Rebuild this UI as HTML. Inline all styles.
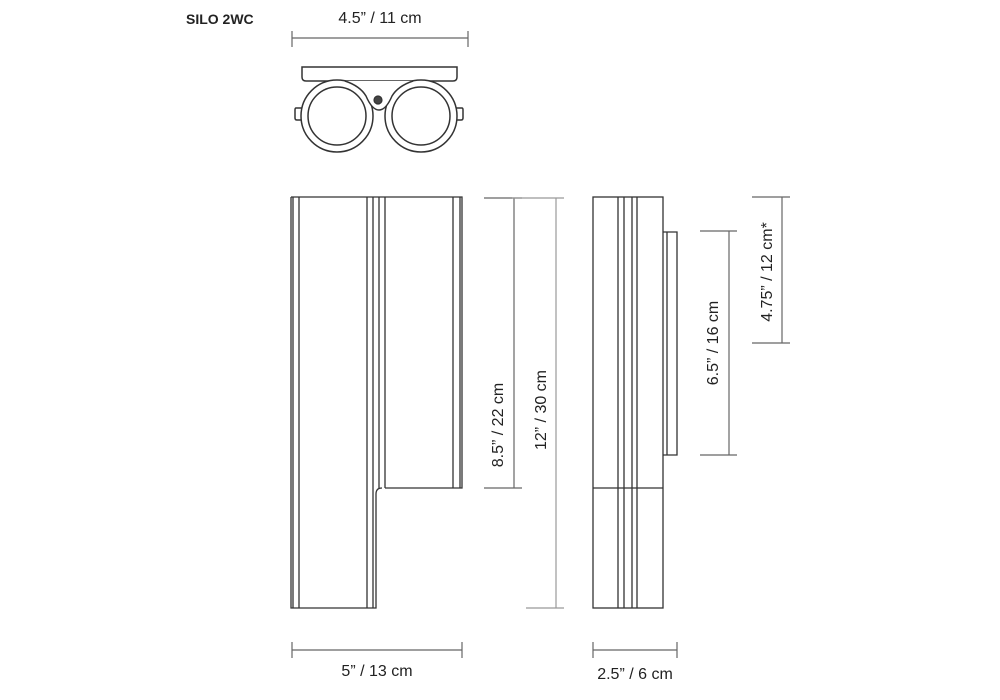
<!DOCTYPE html>
<html><head><style>
body{margin:0;background:#fff;width:1000px;height:700px;overflow:hidden}
svg{display:block}
text{font-family:"Liberation Sans",sans-serif;fill:#222}
</style></head><body>
<svg width="1000" height="700" viewBox="0 0 1000 700" fill="none" stroke="#333" stroke-width="1.2">
<text x="186" y="24" font-size="14" font-weight="bold" stroke="none">SILO 2WC</text>
<!-- top dim -->
<text x="380" y="23" font-size="16" text-anchor="middle" stroke="none">4.5” / 11 cm</text>
<path d="M292 38H468M292 31V47M468 31V47" stroke="#666"/>
<!-- top view -->
<path d="M302 67H457V77Q457 81 453 81H306Q302 81 302 77Z" stroke-width="1.5"/>
<g stroke-width="1.5">
<path d="M302 108 L296 108 Q295 108 295 110 L295 118 Q295 120 297 120 L303 120"/>
<path d="M456 108 L462 108 Q463 108 463 110 L463 118 Q463 120 461 120 L455 120"/>
<circle cx="337" cy="116" r="36" fill="#fff"/>
<circle cx="421" cy="116" r="36" fill="#fff"/>
<path d="M345 81 L413 81 L393 96 Q386 110 379 110 Q372 110 365 96 Z" fill="#fff" stroke="none"/>
<path d="M345 81 Q360 86 366 96 Q372 110 379 110 Q386 110 392 96 Q398 86 413 81"/>
<circle cx="337" cy="116" r="29"/>
<circle cx="421" cy="116" r="29"/>
</g>
<circle cx="378" cy="100" r="4" fill="#444"/>
<!-- front view -->
<g stroke-width="1.3">
<path d="M291 197H462V488H385M291 197V608H376V494Q376 488 382 488"/>
<path d="M293 197V608M299 197V608M367 197V608M373 197V608M379 197V488M385 197V488M453 197V488M460 197V488"/>
</g>
<!-- dims front -->
<path d="M484 198H522M514 198V488M484 488H522" stroke="#666"/>
<path d="M512 198H564M556 198V608M526 608H564" stroke="#999"/>
<text transform="translate(503,425) rotate(-90)" font-size="16" text-anchor="middle" stroke="none">8.5” / 22 cm</text>
<text transform="translate(546,410) rotate(-90)" font-size="16" text-anchor="middle" stroke="none">12” / 30 cm</text>
<path d="M292 650H462M292 642V658M462 642V658" stroke="#666"/>
<text x="377" y="676" font-size="16" text-anchor="middle" stroke="none">5” / 13 cm</text>
<!-- side view -->
<g stroke-width="1.3">
<rect x="593" y="197" width="70" height="411"/>
<path d="M618 197V608M624 197V608M632 197V608M637 197V608M593 488H663"/>
<path d="M663 232H677V455H663M667 232V455"/>
</g>
<path d="M700 231H737M729 231V455M700 455H737" stroke="#666"/>
<path d="M752 197H790M782 197V343M752 343H790" stroke="#666"/>
<text transform="translate(718,343) rotate(-90)" font-size="16" text-anchor="middle" stroke="none">6.5” / 16 cm</text>
<text transform="translate(772,272) rotate(-90)" font-size="16" text-anchor="middle" stroke="none">4.75” / 12 cm*</text>
<path d="M593 650H677M593 642V658M677 642V658" stroke="#666"/>
<text x="635" y="679" font-size="16" text-anchor="middle" stroke="none">2.5” / 6 cm</text>
</svg>
</body></html>
